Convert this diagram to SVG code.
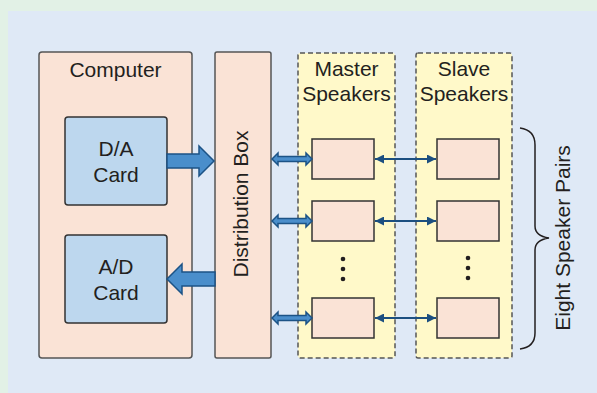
<svg xmlns="http://www.w3.org/2000/svg" width="597" height="393" viewBox="0 0 597 393">
<style>
text{font-family:"Liberation Sans",Arial,sans-serif;font-size:21px;fill:#231f20;}
.peach{fill:#fae3d6;stroke:#555;stroke-width:1.5;}
.card{fill:#bdd7ee;stroke:#333;stroke-width:1.5;}
.panel{fill:#fff9c9;stroke:#555;stroke-width:1.5;stroke-dasharray:5 3;}
.spk{fill:#fae3d6;stroke:#333;stroke-width:1.5;}
.big{fill:#4a8ecb;stroke:#1c5386;stroke-width:1.5;}
.thin{stroke:#1c4f80;stroke-width:2;fill:none;}
.dot{fill:#231f20;}
</style>
<defs>
<marker id="ah" viewBox="0 0 10 10" refX="10" refY="5" markerWidth="5" markerHeight="4.5" orient="auto-start-reverse" markerUnits="strokeWidth">
<path d="M0,0 L10,5 L0,10 Z" fill="#1c4f80"/>
</marker>
</defs>
<rect x="0" y="0" width="597" height="393" fill="#e2f1e6"/>
<rect x="8" y="11" width="589" height="382" fill="#dfe9f6"/>

<g id="computer">
<rect class="peach" x="39" y="52" width="153" height="306" rx="3"/>
<text x="115.5" y="77" text-anchor="middle">Computer</text>
</g>
<g id="da-card">
<rect class="card" x="65" y="117" width="102" height="88" rx="3"/>
<text x="116" y="156" text-anchor="middle">D/A</text>
<text x="116" y="182" text-anchor="middle">Card</text>
</g>
<g id="ad-card">
<rect class="card" x="65" y="235" width="102" height="88" rx="3"/>
<text x="116" y="274" text-anchor="middle">A/D</text>
<text x="116" y="300" text-anchor="middle">Card</text>
</g>
<g id="distribution-box">
<rect class="peach" x="215" y="52" width="56" height="306" rx="2"/>
<text transform="translate(248,204) rotate(-90)" text-anchor="middle">Distribution Box</text>
</g>
<g id="master-speakers">
<rect class="panel" x="298" y="53" width="97" height="305" rx="2"/>
<text x="346.5" y="76" text-anchor="middle">Master</text>
<text x="346.5" y="101" text-anchor="middle">Speakers</text>
</g>
<g id="slave-speakers">
<rect class="panel" x="416" y="53" width="96" height="305" rx="2"/>
<text x="464" y="76" text-anchor="middle">Slave</text>
<text x="464" y="101" text-anchor="middle">Speakers</text>
</g>
<g id="master-1"><rect class="spk" x="312" y="139" width="62" height="40"/></g>
<g id="master-2"><rect class="spk" x="312" y="201" width="62" height="40"/></g>
<g id="master-8"><rect class="spk" x="312" y="298" width="62" height="40"/></g>
<g id="slave-1"><rect class="spk" x="437" y="139" width="62" height="40"/></g>
<g id="slave-2"><rect class="spk" x="437" y="201" width="62" height="40"/></g>
<g id="slave-8"><rect class="spk" x="437" y="298" width="62" height="40"/></g>
<g id="dots">
<circle class="dot" cx="343" cy="259" r="2.3"/><circle class="dot" cx="343" cy="269" r="2.3"/><circle class="dot" cx="343" cy="279" r="2.3"/>
<circle class="dot" cx="468" cy="258" r="2.3"/><circle class="dot" cx="468" cy="268" r="2.3"/><circle class="dot" cx="468" cy="278" r="2.3"/>
</g>
<g id="eight-speaker-pairs">
<path d="M520,128 Q535,130 535,145 L535,226 Q535,236 549,238 Q535,240 535,250 L535,333 Q535,347 520,349" fill="none" stroke="#231f20" stroke-width="1.5"/>
<text transform="translate(570,238) rotate(-90)" text-anchor="middle">Eight Speaker Pairs</text>
</g>
<g id="connectors">
<path class="big" d="M167,154 L199,154 L199,146 L214,161 L199,176 L199,168 L167,168 Z"/>
<path class="big" d="M215,272 L182,272 L182,264 L167,279 L182,294 L182,286 L215,286 Z"/>
<path class="big" d="M272,159 L278,153 L278,156.5 L306,156.5 L306,153 L312,159 L306,165 L306,161.5 L278,161.5 L278,165 Z"/>
<path class="big" d="M272,221 L278,215 L278,218.5 L306,218.5 L306,215 L312,221 L306,227 L306,223.5 L278,223.5 L278,227 Z"/>
<path class="big" d="M272,318 L278,312 L278,315.5 L306,315.5 L306,312 L312,318 L306,324 L306,320.5 L278,320.5 L278,324 Z"/>
<line class="thin" x1="375" y1="159" x2="436" y2="159" marker-start="url(#ah)" marker-end="url(#ah)"/>
<line class="thin" x1="375" y1="221" x2="436" y2="221" marker-start="url(#ah)" marker-end="url(#ah)"/>
<line class="thin" x1="375" y1="318" x2="436" y2="318" marker-start="url(#ah)" marker-end="url(#ah)"/>
</g>
</svg>
